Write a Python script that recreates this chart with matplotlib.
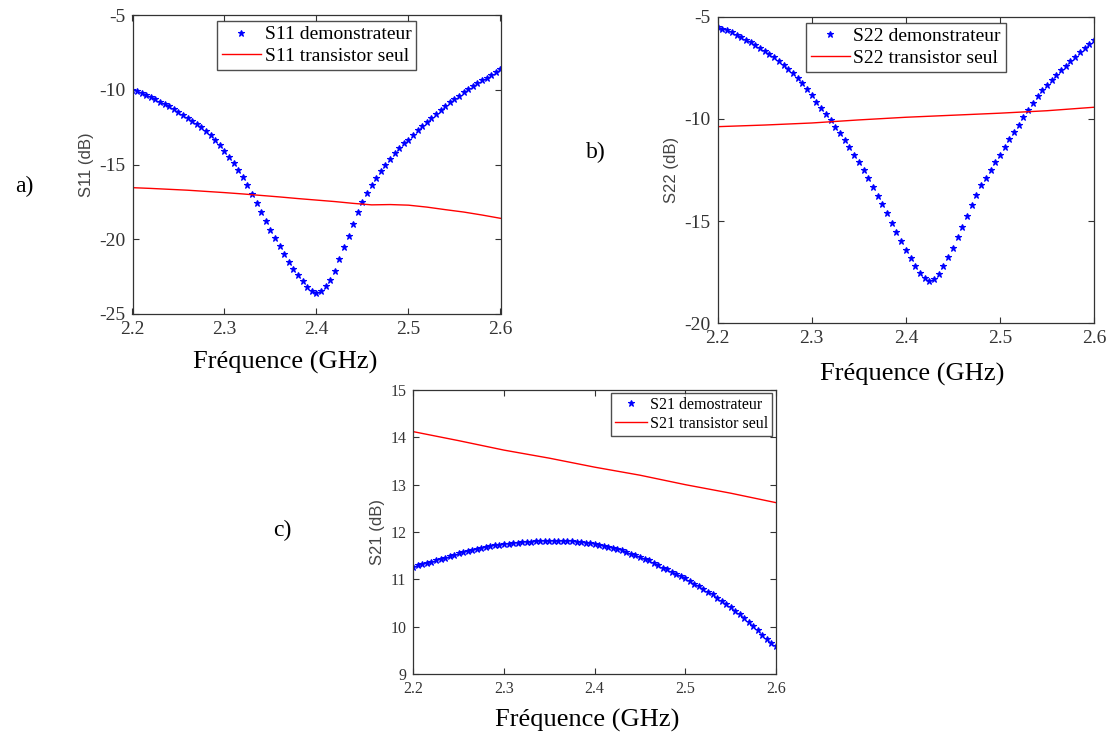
import numpy as np
import matplotlib
matplotlib.use("Agg")
import matplotlib.pyplot as plt

plt.rcParams['font.family'] = ['Liberation Serif', 'DejaVu Serif']
plt.rcParams['axes.unicode_minus'] = False

# frequency grids (GHz)
f_demo = np.round(np.arange(2.200, 2.6001, 0.005), 3)
f_s11_t = [2.20, 2.22, 2.24, 2.26, 2.28, 2.30, 2.32, 2.34, 2.36, 2.38, 2.40,
           2.42, 2.44, 2.46, 2.48, 2.50, 2.52, 2.54, 2.56, 2.58, 2.60]
f_lin = [2.20, 2.25, 2.30, 2.35, 2.40, 2.45, 2.50, 2.55, 2.60]

# a) S11
s11_demo = [-10.00, -10.10, -10.22, -10.35, -10.50, -10.65, -10.80, -10.95, -11.12, -11.30,
            -11.48, -11.67, -11.87, -12.07, -12.28, -12.52, -12.78, -13.05, -13.35, -13.70,
            -14.08, -14.48, -14.90, -15.35, -15.82, -16.35, -16.95, -17.55, -18.15, -18.75,
            -19.35, -19.90, -20.45, -21.00, -21.50, -21.98, -22.40, -22.80, -23.18, -23.45,
            -23.58, -23.45, -23.15, -22.70, -22.10, -21.35, -20.55, -19.75, -18.95, -18.20,
            -17.50, -16.90, -16.38, -15.90, -15.45, -15.02, -14.62, -14.25, -13.90, -13.58,
            -13.35, -13.02, -12.72, -12.44, -12.17, -11.90, -11.62, -11.35, -11.10, -10.85,
            -10.62, -10.40, -10.18, -9.97, -9.77, -9.57, -9.38, -9.20, -9.02, -8.83, -8.62]
s11_trans = [-16.55, -16.60, -16.66, -16.72, -16.80, -16.88, -16.97, -17.07, -17.17, -17.28,
             -17.38, -17.48, -17.60, -17.70, -17.68, -17.72, -17.85, -18.02, -18.18, -18.38, -18.60]

# b) S22
s22_demo = [-5.50, -5.58, -5.67, -5.77, -5.88, -6.00, -6.12, -6.25, -6.38, -6.52,
            -6.66, -6.82, -6.98, -7.16, -7.35, -7.55, -7.77, -8.00, -8.25, -8.55,
            -8.85, -9.15, -9.45, -9.75, -10.05, -10.38, -10.70, -11.03, -11.37, -11.75,
            -12.12, -12.50, -12.90, -13.32, -13.75, -14.18, -14.62, -15.08, -15.52, -15.98,
            -16.40, -16.82, -17.20, -17.55, -17.80, -17.93, -17.85, -17.60, -17.22, -16.78,
            -16.30, -15.80, -15.28, -14.75, -14.22, -13.72, -13.25, -12.88, -12.50, -12.12,
            -11.77, -11.38, -11.00, -10.65, -10.30, -9.90, -9.55, -9.20, -8.90, -8.60,
            -8.35, -8.10, -7.85, -7.62, -7.40, -7.18, -6.96, -6.75, -6.55, -6.35, -6.14]
s22_trans = [-10.38, -10.30, -10.20, -10.05, -9.92, -9.82, -9.72, -9.60, -9.43]

# c) S21
s21_demo = [11.27, 11.30, 11.32, 11.35, 11.37, 11.40, 11.43, 11.46, 11.49, 11.52,
            11.55, 11.58, 11.60, 11.63, 11.65, 11.67, 11.69, 11.70, 11.72, 11.73,
            11.74, 11.75, 11.76, 11.77, 11.78, 11.78, 11.79, 11.80, 11.80, 11.81,
            11.81, 11.81, 11.81, 11.81, 11.80, 11.80, 11.79, 11.78, 11.77, 11.76,
            11.74, 11.72, 11.70, 11.69, 11.67, 11.64, 11.61, 11.57, 11.54, 11.51,
            11.48, 11.44, 11.40, 11.35, 11.30, 11.25, 11.21, 11.16, 11.12, 11.07,
            11.02, 10.97, 10.91, 10.86, 10.80, 10.74, 10.68, 10.61, 10.55, 10.48,
            10.42, 10.34, 10.26, 10.18, 10.10, 10.01, 9.92, 9.83, 9.74, 9.66, 9.59]
s21_trans = [14.12, 13.93, 13.73, 13.56, 13.37, 13.20, 13.00, 12.82, 12.62]

x_ticks = [2.2, 2.3, 2.4, 2.5, 2.6]

W, H = 1108, 738
fig = plt.figure(figsize=(W / 100, H / 100), dpi=100)


def box(l, t, r, b):
    return [l / W, 1 - b / H, (r - l) / W, (b - t) / H]


def panel(rect, fd, yd, ft, yt, name, ylim, yticks, tsize, lsize, loc, anchor):
    ax = fig.add_axes(rect)
    ax.plot(fd, yd, ls='none', marker='*', ms=4.5, color='#0000ff', mew=0.8,
            label=name + ' demonstrateur' if name != 'S21' else 'S21 demostrateur')
    ax.plot(ft, yt, color='#ff0000', lw=1.0, label=name + ' transistor seul')
    ax.set_xlim(2.2, 2.6)
    ax.set_ylim(*ylim)
    ax.set_xticks(x_ticks)
    ax.set_xticklabels([str(v) for v in x_ticks])
    ax.set_yticks(yticks)
    ax.tick_params(direction='in', length=4, top=True, right=True,
                   labelsize=tsize, colors='#333333')
    ax.tick_params(axis='x', pad=5)
    ax.tick_params(axis='y', pad=5)
    for s in ax.spines.values():
        s.set_color('#333333')
        s.set_linewidth(0.9)
    ax.set_ylabel(name + ' (dB)', family=['Liberation Sans', 'DejaVu Sans'],
                  fontsize=12, color='#444444', labelpad=4)
    leg = ax.legend(loc=loc, bbox_to_anchor=anchor, fontsize=lsize, frameon=True,
                    fancybox=False, edgecolor='#222222', handlelength=2.0,
                    handletextpad=0.2, borderpad=0.25, labelspacing=0.2,
                    borderaxespad=0, markerscale=1.0)
    leg.get_frame().set_linewidth(1.0)
    return ax


panel(box(132.5, 15, 500.5, 314), f_demo, s11_demo, f_s11_t, s11_trans, 'S11',
      (-25, -5), [-25, -20, -15, -10, -5], 14, 14, 'upper center', (0.5, 0.98))
panel(box(717.7, 16.7, 1094, 323.3), f_demo, s22_demo, f_lin, s22_trans, 'S22',
      (-20, -5), [-20, -15, -10, -5], 14, 14, 'upper center', (0.5, 0.98))
panel(box(413.3, 390, 776, 674), f_demo, s21_demo, f_lin, s21_trans, 'S21',
      (9, 15), [9, 10, 11, 12, 13, 14, 15], 11.5, 11.5, 'upper right', (0.99, 0.99))


def ftext(x, y, s, size):
    fig.text(x / W, 1 - y / H, s, fontsize=size, ha='center', va='center')


ftext(285, 362, 'Fréquence (GHz)', 19)
ftext(912, 374, 'Fréquence (GHz)', 19)
ftext(587, 720, 'Fréquence (GHz)', 19)
ftext(24, 186, 'a)', 17)
ftext(596, 152, 'b)', 17)
ftext(282, 530, 'c)', 17)

fig.savefig('out.png', dpi=100)
